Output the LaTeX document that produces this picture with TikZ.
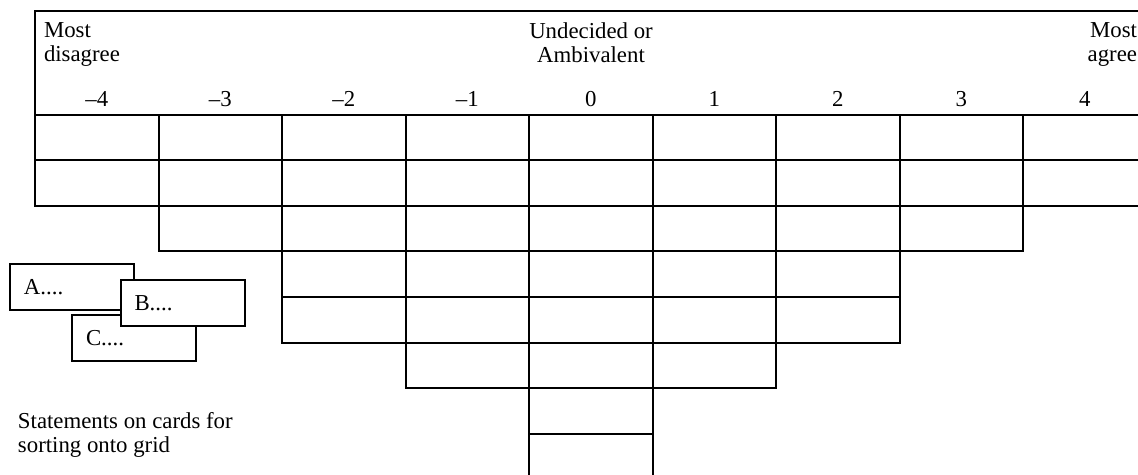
\documentclass[tikz,border=0pt]{standalone}
\usepackage{fontspec}
\setmainfont{Liberation Serif}
\usetikzlibrary{positioning}

\begin{document}
\begin{tikzpicture}[x=0.5pt,y=-0.5pt,line width=1pt,
  every node/.style={font=\fontsize{11.4}{12}\selectfont},
  head/.style={inner sep=0pt},
  card/.style={draw,fill=white,minimum height=23pt,text width=48pt,inner xsep=7pt,align=left}]
  \useasboundingbox (0,0) rectangle (1138,475);
  % header of the grid
  \draw (1170,11) -- (35,11) -- (35,115) -- (1170,115);
  \node[head,anchor=north west,align=left] (disagree) at (43,22) {Most\\disagree};
  \node[head,anchor=north,align=center] (ambivalent) at (591,22) {Undecided or\\Ambivalent};
  \node[head,anchor=north east,align=right] (agree) at (1138,22) {Most\\agree};
  % columns of cells
  \foreach \n/\lab [count=\i from 0] in {2/--4,3/--3,5/--2,6/--1,8/0,6/1,5/2,3/3,2/4} {
    \pgfmathsetmacro{\xl}{35+123.5*\i}
    \node[anchor=base] (score\i) at (\xl+61.75,107) {\lab};
    \foreach \r in {1,...,\n}
      \draw (\xl,115+45.5*\r-45.5) rectangle +(123.5,45.5);
  }
  % cards
  \node[card] (cardA) at (72,287) {A....};
  \node[card] (cardC) at (134,338) {C....};
  \node[card] (cardB) at (182.5,303) {B....};
  \node[head,anchor=north west,align=left] (caption) at (17,411) {Statements on cards for\\sorting onto grid};
\end{tikzpicture}
\end{document}
